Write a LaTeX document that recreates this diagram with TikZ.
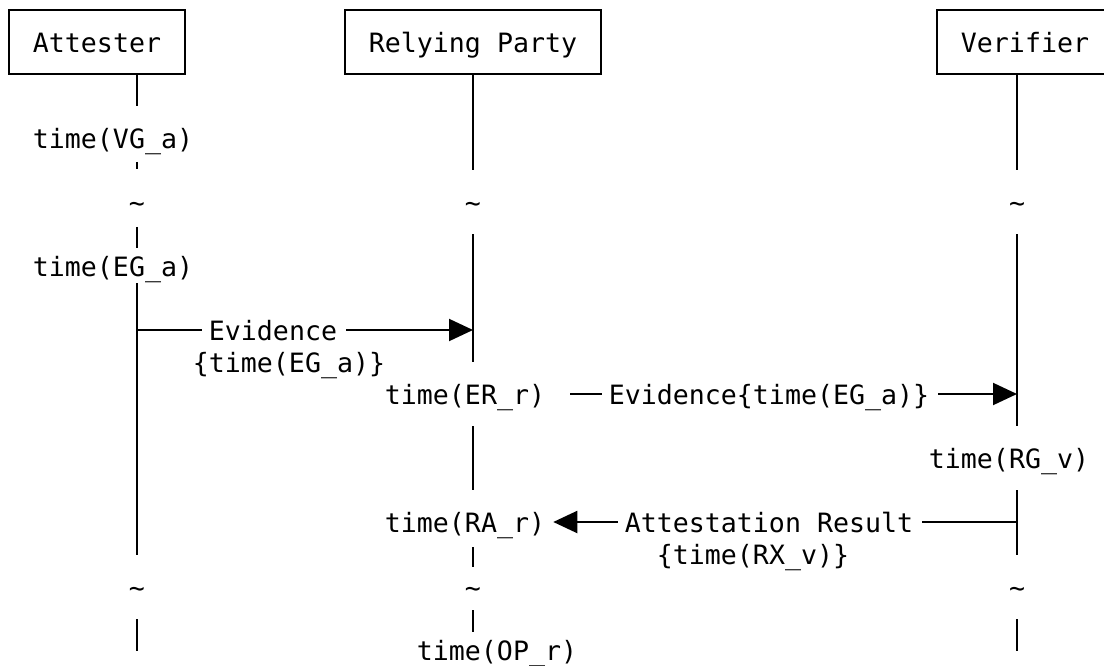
\documentclass[tikz,border=0pt]{standalone}
\usepackage{fontspec}
\usetikzlibrary{arrows.meta}
\newfontfamily\diagfont{DejaVu Sans Mono}

\begin{document}
\begin{tikzpicture}
[x=1pt,y=-1pt,
 txt/.style={font=\diagfont\fontsize{26.6}{32}\selectfont,inner xsep=0pt,inner ysep=0pt,text height=24pt,text depth=3pt},
 actor/.style={txt,rectangle,draw=black,line width=2pt,minimum height=64pt},
 stamp/.style={txt,minimum height=64pt},
 msg/.style={txt},
 life/.style={line width=2pt},
 arr/.style={line width=2pt,-{Triangle[length=24pt,width=22pt]}}]
\useasboundingbox (0,0) rectangle (1104,666);
\node[actor,minimum width=176pt] at (97,42) (att) {Attester};
\node[actor,minimum width=256pt] at (473,42) (rp) {Relying Party};
\node[actor,minimum width=176pt] at (1025,42) (vf) {Verifier};
\node[stamp] at (113,138) (vga) {time(VG\_a)};
\node[stamp] at (137,202) (at1) {\textasciitilde};
\node[stamp] at (113,266) (ega) {time(EG\_a)};
\node[stamp] at (137,587) (at2) {\textasciitilde};
\node[stamp] at (473,202) (rt1) {\textasciitilde};
\node[stamp] at (465,394) (er) {time(ER\_r)};
\node[stamp] at (465,522) (ra) {time(RA\_r)};
\node[stamp] at (473,587) (rt2) {\textasciitilde};
\node[stamp] at (497,650) (op) {time(OP\_r)};
\node[stamp] at (1017,202) (vt1) {\textasciitilde};
\node[stamp] at (1009,458) (rg) {time(RG\_v)};
\node[stamp] at (1017,587) (vt2) {\textasciitilde};
\node[msg] at (273,330) (ev1) {Evidence};
\node[msg] at (289,362) (ev1b) {\{time(EG\_a)\}};
\node[msg] at (769,394) (ev2) {Evidence\{time(EG\_a)\}};
\node[msg] at (769,522) (res) {Attestation Result};
\node[msg] at (753,554) (resb) {\{time(RX\_v)\}};
\coordinate (bot) at (0,651);
\draw[life] (att.south -| at1) -- (at1 |- vga.north);
\draw[life,shorten <=24pt,shorten >=33pt] (at1 |- vga) -- (at1.center);
\draw[life,shorten <=25pt,shorten >=18pt] (at1.center) -- (at1 |- ega);
\draw[life,shorten <=17pt] (at1 |- ega) -- (at2.north);
\draw[life] (at2.south) -- (at2 |- bot);
\draw[life] (rp.south) -- (rt1.north);
\draw[life] (rt1.south) -- (rt1 |- er.north);
\draw[life] (rt1 |- er.south) -- (rt1 |- ra.north);
\draw[life,shorten <=25pt,shorten >=20pt] (rt1 |- ra) -- (rt2.center);
\draw[life,shorten <=23pt,shorten >=18pt] (rt2.center) -- (rt2 |- op);
\draw[life] (vf.south -| vt1) -- (vt1.north);
\draw[life] (vt1.south) -- (vt1 |- rg.north);
\draw[life] (vt1 |- rg.south) -- (vt2.north);
\draw[life] (vt2.south) -- (vt2 |- bot);
\draw[life,shorten >=7pt] (at1 |- ev1) -- (ev1);
\draw[arr,shorten <=9pt] (ev1) -- (rt1 |- ev1);
\draw[life,shorten <=25pt,shorten >=7pt] (er) -- (ev2);
\draw[arr,shorten <=9pt] (ev2) -- (vt1 |- ev2);
\draw[life,shorten >=9pt] (vt1 |- res) -- (res);
\draw[arr,shorten <=7pt,shorten >=8pt] (res) -- (ra);
\end{tikzpicture}
\end{document}
